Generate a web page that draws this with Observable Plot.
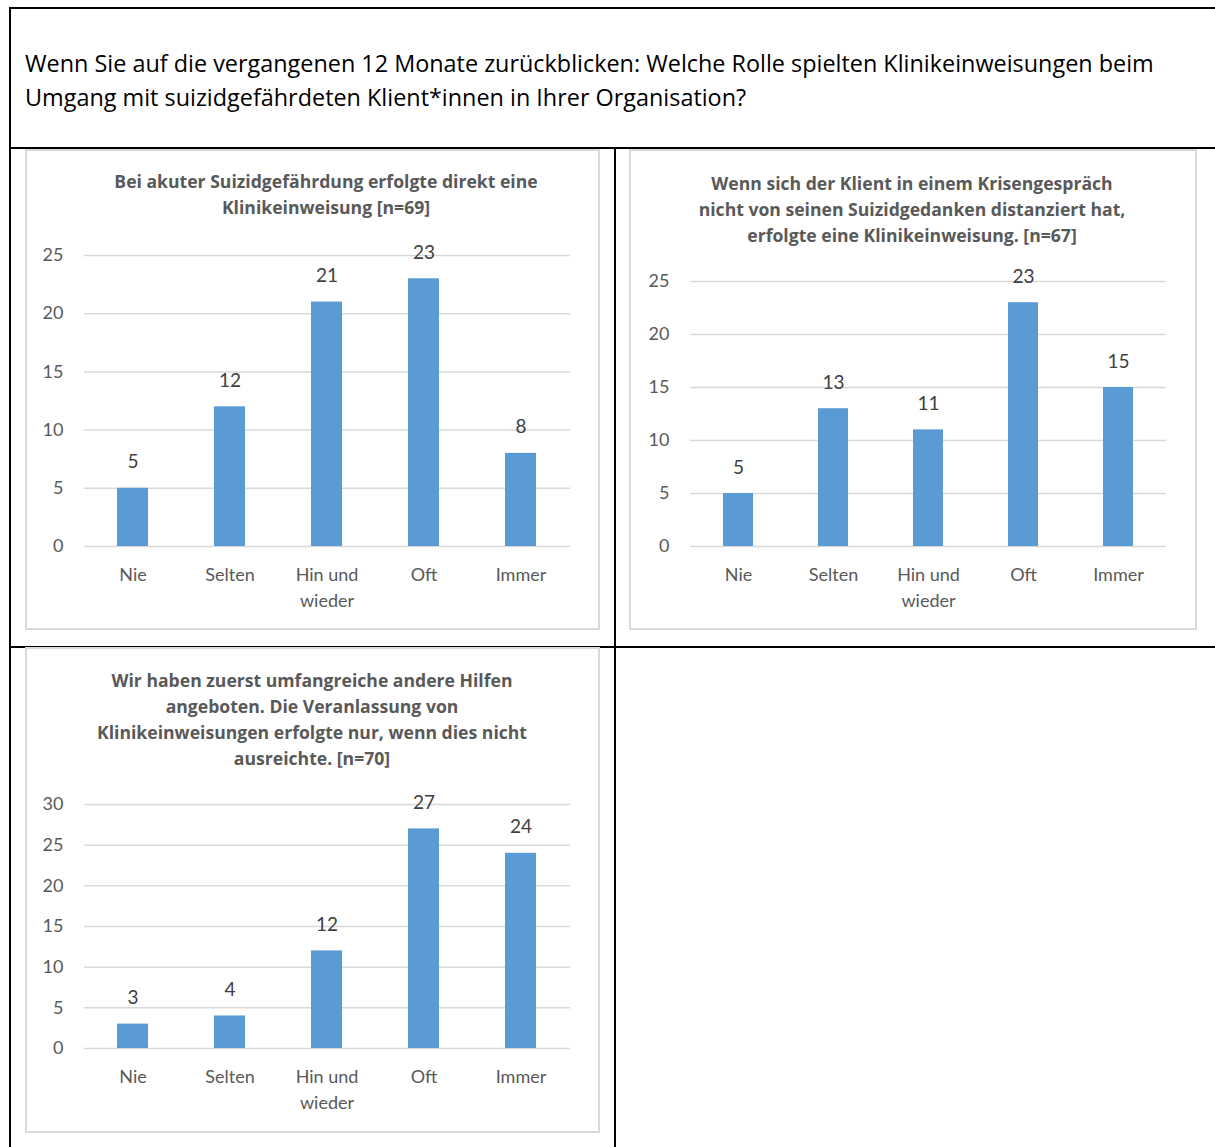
<!DOCTYPE html>
<html>
<head>
<meta charset="utf-8">
<script src="https://cdn.jsdelivr.net/npm/d3@7"></script>
<script src="https://cdn.jsdelivr.net/npm/@observablehq/plot@0.6"></script>
<style>
  body { margin: 0; background: #fff; font-family: Lato, "Noto Sans", sans-serif; }
  #page { position: relative; width: 1215px; height: 1147px; overflow: hidden; background: #fff; }
  .rule { position: absolute; background: #000; }
  .box { position: absolute; border: 2px solid #d9d9d9; box-sizing: border-box; }
  .question { position: absolute; left: 25px; top: 46px; font-family: "Open Sans", sans-serif; font-size: 23.4px;
              line-height: 34px; color: #000; white-space: nowrap; }
  .ctitle { position: absolute; font-family: "Open Sans", sans-serif; font-weight: bold; color: #595959;
            font-size: 17.6px; line-height: 26px; text-align: center; white-space: nowrap; transform: translateX(-50%); }
  .plot { position: absolute; }
</style>
</head>
<body>
<div id="page"></div>
<script>
// Answer categories (x axis) and the counts for each statement
const categories = ["Nie", "Selten", "Hin und\nwieder", "Oft", "Immer"];
const direktValues = [5, 12, 21, 23, 8];
const krisenValues = [5, 13, 11, 23, 15];
const hilfenValues = [3, 4, 12, 27, 24];

// Y tick labels per chart
const ticks25 = [0, 5, 10, 15, 20, 25];
const ticks30 = [0, 5, 10, 15, 20, 25, 30];

// Texts
const questionLines = [
  "Wenn Sie auf die vergangenen 12 Monate zurückblicken: Welche Rolle spielten Klinikeinweisungen beim",
  "Umgang mit suizidgefährdeten Klient*innen in Ihrer Organisation?"
];
const direktTitle = ["Bei akuter Suizidgefährdung erfolgte direkt eine", "Klinikeinweisung [n=69]"];
const krisenTitle = ["Wenn sich der Klient in einem Krisengespräch", "nicht von seinen Suizidgedanken distanziert hat,", "erfolgte eine Klinikeinweisung. [n=67]"];
const hilfenTitle = ["Wir haben zuerst umfangreiche andere Hilfen", "angeboten. Die Veranlassung von", "Klinikeinweisungen erfolgte nur, wenn dies nicht", "ausreichte. [n=70]"];

const page = document.getElementById("page");

function el(cls, css, html) {
  const d = document.createElement("div");
  d.className = cls;
  Object.assign(d.style, css);
  if (html != null) d.innerHTML = html;
  page.appendChild(d);
  return d;
}

// Table frame
el("rule", {left: "9px", top: "7px", width: "1206px", height: "2px"});
el("rule", {left: "9px", top: "7px", width: "2px", height: "1140px"});
el("rule", {left: "9px", top: "147px", width: "1206px", height: "2px"});
el("rule", {left: "614px", top: "147px", width: "2px", height: "1000px"});
el("rule", {left: "9px", top: "646px", width: "1206px", height: "2px"});

el("question", {}, questionLines.join("<br>"));

function chart(opts) {
  const {box, titleLines, titleX, titleTop, values, yMax, ticks, plotLeft, plotRight, plotTop, plotBottom} = opts;
  el("box", {left: box[0] + "px", top: box[1] + "px", width: box[2] + "px", height: box[3] + "px"});
  el("ctitle", {left: titleX + "px", top: titleTop + "px"}, titleLines.join("<br>"));

  const svgTop = plotTop - 20;
  const width = box[2];
  const height = box[1] + box[3] - svgTop;
  const data = categories.map((c, i) => ({cat: c, v: values[i]}));

  const svg = Plot.plot({
    width, height,
    marginTop: plotTop - svgTop,
    marginBottom: height - (plotBottom - svgTop),
    marginLeft: plotLeft - box[0],
    marginRight: box[0] + box[2] - plotRight,
    style: {fontFamily: "Lato, 'Noto Sans', sans-serif", background: "transparent", overflow: "visible"},
    x: {domain: categories, paddingInner: 0.68, paddingOuter: 0.34, axis: null},
    y: {domain: [0, yMax], axis: null},
    marks: [
      Plot.gridY(ticks, {stroke: "#d9d9d9", strokeOpacity: 1, strokeWidth: 1.5}),
      Plot.barY(data, {x: "cat", y: "v", fill: "#5b9bd5"}),
      Plot.text(data, {x: "cat", y: "v", text: d => String(d.v), dy: -26, fontSize: 19, fill: "#404040"}),
      Plot.axisY(ticks, {tickSize: 0, tickPadding: 21, fontSize: 18, color: "#595959", label: null}),
      Plot.axisX({tickSize: 0, tickPadding: 16, fontSize: 18, color: "#595959", lineHeight: 1.44, label: null})
    ]
  });
  svg.classList.add("plot");
  svg.style.left = box[0] + "px";
  svg.style.top = svgTop + "px";
  svg.style.position = "absolute";
  page.appendChild(svg);
}

chart({box: [25, 149, 575, 481], titleLines: direktTitle, titleX: 326, titleTop: 168,
       values: direktValues, yMax: 25, ticks: ticks25, plotLeft: 84, plotRight: 570, plotTop: 255, plotBottom: 546});
chart({box: [629, 149, 568, 481], titleLines: krisenTitle, titleX: 912, titleTop: 170,
       values: krisenValues, yMax: 25, ticks: ticks25, plotLeft: 690, plotRight: 1166, plotTop: 281, plotBottom: 546});
chart({box: [25, 647, 575, 486], titleLines: hilfenTitle, titleX: 312, titleTop: 667,
       values: hilfenValues, yMax: 30, ticks: ticks30, plotLeft: 84, plotRight: 570, plotTop: 804, plotBottom: 1048});
</script>
</body>
</html>
